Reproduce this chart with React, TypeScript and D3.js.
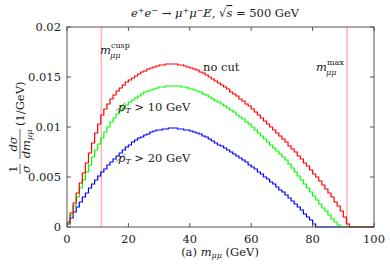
import React, { useEffect } from 'react';
import * as d3 from 'd3';

// 1 GeV bins starting at m = 0
const noCut = [
  0.0005, 0.0014, 0.0024, 0.0034, 0.0044, 0.0054, 0.0064, 0.0074, 0.0084, 0.0094,
  0.0103, 0.0112, 0.0118, 0.0123, 0.0128, 0.0132, 0.0136, 0.0139, 0.0142, 0.0145,
  0.0147, 0.0149, 0.0151, 0.0153, 0.0155, 0.0156, 0.0158, 0.0159, 0.0160, 0.0161,
  0.0162, 0.0162, 0.0163, 0.0163, 0.0163, 0.0163, 0.0162, 0.0162, 0.0161, 0.0160,
  0.0159, 0.0158, 0.0157, 0.0155, 0.0154, 0.0152, 0.0150, 0.0148, 0.0146, 0.0144,
  0.0142, 0.0140, 0.0138, 0.0135, 0.0133, 0.0131, 0.0128, 0.0126, 0.0123, 0.0121,
  0.0118, 0.0115, 0.0112, 0.0109, 0.0106, 0.0103, 0.0100, 0.0097, 0.0094, 0.0091,
  0.0088, 0.0085, 0.0081, 0.0078, 0.0075, 0.0071, 0.0068, 0.0064, 0.0061, 0.0057,
  0.0053, 0.0050, 0.0046, 0.0042, 0.0038, 0.0034, 0.0030, 0.0025, 0.0021, 0.0016,
  0.0010, 0.0003,
];

const cut10 = [
  0.0004, 0.0012, 0.0021, 0.0030, 0.0039, 0.0047, 0.0055, 0.0062, 0.0070, 0.0077,
  0.0083, 0.0089, 0.0095, 0.0100, 0.0105, 0.0109, 0.0113, 0.0116, 0.0119, 0.0122,
  0.0125, 0.0127, 0.0129, 0.0131, 0.0133, 0.0135, 0.0136, 0.0137, 0.0138, 0.0139,
  0.0140, 0.0140, 0.0141, 0.0141, 0.0141, 0.0141, 0.0141, 0.0140, 0.0140, 0.0139,
  0.0138, 0.0137, 0.0136, 0.0135, 0.0133, 0.0132, 0.0130, 0.0128, 0.0126, 0.0125,
  0.0123, 0.0121, 0.0119, 0.0117, 0.0115, 0.0112, 0.0110, 0.0108, 0.0105, 0.0103,
  0.0100, 0.0097, 0.0094, 0.0091, 0.0088, 0.0085, 0.0082, 0.0079, 0.0076, 0.0073,
  0.0070, 0.0067, 0.0063, 0.0059, 0.0055, 0.0051, 0.0047, 0.0043, 0.0039, 0.0035,
  0.0031, 0.0027, 0.0023, 0.0019, 0.0016, 0.0012, 0.0008, 0.0005, 0.0002,
];

const cut20 = [
  0.0003, 0.0009, 0.0015, 0.0020, 0.0025, 0.0030, 0.0034, 0.0039, 0.0043, 0.0047,
  0.0051, 0.0055, 0.0058, 0.0062, 0.0065, 0.0068, 0.0071, 0.0074, 0.0077, 0.0080,
  0.0082, 0.0085, 0.0087, 0.0089, 0.0090, 0.0092, 0.0093, 0.0095, 0.0096, 0.0097,
  0.0097, 0.0098, 0.0098, 0.0099, 0.0099, 0.0099, 0.0098, 0.0098, 0.0097, 0.0097,
  0.0096, 0.0095, 0.0094, 0.0093, 0.0091, 0.0090, 0.0088, 0.0086, 0.0084, 0.0082,
  0.0081, 0.0079, 0.0077, 0.0075, 0.0073, 0.0071, 0.0069, 0.0067, 0.0065, 0.0062,
  0.0060, 0.0058, 0.0055, 0.0053, 0.0050, 0.0048, 0.0045, 0.0043, 0.0040, 0.0037,
  0.0035, 0.0032, 0.0029, 0.0026, 0.0023, 0.0020, 0.0017, 0.0013, 0.0010, 0.0007,
  0.0003,
];

const xTicks = [0, 20, 40, 60, 80, 100];
const yTicks = [0, 0.005, 0.01, 0.015, 0.02];
const yTickLabels = ['0', '0.005', '0.01', '0.015', '0.02'];
const mCusp = 11.2;
const mMax = 91.2;

const margin = { top: 27, right: 16, bottom: 37, left: 67 };
const W = 390;
const H = 264;

const App = () => {
  useEffect(() => {
    document.body.style.margin = '0';
  }, []);

  const x = d3.scaleLinear().domain([0, 100]).range([margin.left, W - margin.right]);
  const y = d3.scaleLinear().domain([0, 0.02]).range([H - margin.bottom, margin.top]);

  // histogram as step line, padded with zero out to m = 100
  const stepPath = (vals: number[]) => {
    const pts = vals.map((v, i) => [i, v] as [number, number]);
    pts.push([vals.length, 0]);
    pts.push([100, 0]);
    return d3
      .line<[number, number]>()
      .x(d => x(d[0]))
      .y(d => y(d[1]))
      .curve(d3.curveStepAfter)(pts) || '';
  };

  const font = "'DejaVu Serif', serif";
  const fs = 11.5;
  const fsS = 8;
  const x0 = x(0);
  const x1 = x(100);
  const y0 = y(0);
  const y1 = y(0.02);

  return (
    <svg width={W} height={H} style={{ display: 'block', fontFamily: font }}>
      <rect width={W} height={H} fill="#fff" />

      {/* markers for cusp and max */}
      <line x1={x(mCusp)} x2={x(mCusp)} y1={y0} y2={y1} stroke="#ffb3b3" strokeWidth={1.5} />
      <line x1={x(mMax)} x2={x(mMax)} y1={y0} y2={y1} stroke="#ffb3b3" strokeWidth={1.5} />

      <path d={stepPath(cut20)} fill="none" stroke="#0000ff" strokeWidth={1.2} />
      <path d={stepPath(cut10)} fill="none" stroke="#00ff00" strokeWidth={1.2} />
      <path d={stepPath(noCut)} fill="none" stroke="#ff0000" strokeWidth={1.2} />

      {/* frame */}
      <rect x={x0} y={y1} width={x1 - x0} height={y0 - y1} fill="none" stroke="#555" strokeWidth={1} />

      {xTicks.map(t => (
        <g key={'x' + t}>
          <line x1={x(t)} x2={x(t)} y1={y0} y2={y0 - 4} stroke="#555" />
          <line x1={x(t)} x2={x(t)} y1={y1} y2={y1 + 4} stroke="#555" />
          <text x={x(t)} y={y0 + 16} textAnchor="middle" fontSize={fs} fill="#222">{t}</text>
        </g>
      ))}
      {yTicks.map((t, i) => (
        <g key={'y' + t}>
          <line x1={x0} x2={x0 + 4} y1={y(t)} y2={y(t)} stroke="#555" />
          <line x1={x1} x2={x1 - 4} y1={y(t)} y2={y(t)} stroke="#555" />
          <text x={x0 - 6} y={y(t) + 4} textAnchor="end" fontSize={fs} fill="#222">{yTickLabels[i]}</text>
        </g>
      ))}

      {/* title */}
      <text x={131} y={17} fontSize={fs} fill="#222">
        <tspan fontStyle="italic">e</tspan>
        <tspan dy={-4} fontSize={fsS}>+</tspan>
        <tspan dy={4} fontStyle="italic">e</tspan>
        <tspan dy={-4} fontSize={fsS}>−</tspan>
        <tspan dy={4}> → </tspan>
        <tspan fontStyle="italic">μ</tspan>
        <tspan dy={-4} fontSize={fsS}>+</tspan>
        <tspan dy={4} fontStyle="italic">μ</tspan>
        <tspan dy={-4} fontSize={fsS}>−</tspan>
        <tspan dy={4} fontStyle="italic">{'E\u0338'}</tspan>
        <tspan>, √</tspan>
        <tspan fontStyle="italic" textDecoration="overline">s</tspan>
        <tspan> = 500 GeV</tspan>
      </text>

      {/* y label, rotated */}
      <g transform="translate(20,127) rotate(-90)" fontSize={fs} fill="#222">
        <text x={-42} y={-3} textAnchor="middle">1</text>
        <line x1={-47} x2={-37} y1={0} y2={0} stroke="#222" strokeWidth={0.7} />
        <text x={-42} y={10} textAnchor="middle" fontStyle="italic">σ</text>
        <text x={-17} y={-3} textAnchor="middle" fontStyle="italic">dσ</text>
        <line x1={-32} x2={-2} y1={0} y2={0} stroke="#222" strokeWidth={0.7} />
        <text x={-17} y={10} textAnchor="middle">
          <tspan fontStyle="italic">dm</tspan>
          <tspan dy={2} fontSize={fsS} fontStyle="italic">μμ</tspan>
        </text>
        <text x={1} y={4}>(1/GeV)</text>
      </g>

      {/* x label */}
      <text x={220} y={256} textAnchor="middle" fontSize={fs} fill="#222">
        <tspan>(a) </tspan>
        <tspan fontStyle="italic">m</tspan>
        <tspan dy={2} fontSize={fsS} fontStyle="italic">μμ</tspan>
        <tspan dy={-2}> (GeV)</tspan>
      </text>

      {/* curve labels */}
      <text x={203} y={71} fontSize={fs} fill="#222">no cut</text>
      <text x={118} y={111} fontSize={fs} fill="#222">
        <tspan fontStyle="italic">{'p\u0338'}</tspan>
        <tspan dy={2} fontSize={fsS} fontStyle="italic">T</tspan>
        <tspan dy={-2}> &gt; 10 GeV</tspan>
      </text>
      <text x={118} y={162} fontSize={fs} fill="#222">
        <tspan fontStyle="italic">{'p\u0338'}</tspan>
        <tspan dy={2} fontSize={fsS} fontStyle="italic">T</tspan>
        <tspan dy={-2}> &gt; 20 GeV</tspan>
      </text>

      {/* marker labels */}
      <text x={100} y={54} fontSize={fs} fill="#222">
        <tspan fontStyle="italic">m</tspan>
        <tspan dy={-6} fontSize={fsS}>cusp</tspan>
      </text>
      <text x={110} y={58} fontSize={fsS} fontStyle="italic" fill="#222">μμ</text>
      <text x={316} y={71} fontSize={fs} fill="#222">
        <tspan fontStyle="italic">m</tspan>
        <tspan dy={-6} fontSize={fsS}>max</tspan>
      </text>
      <text x={326} y={75} fontSize={fsS} fontStyle="italic" fill="#222">μμ</text>
    </svg>
  );
};

export default App;
